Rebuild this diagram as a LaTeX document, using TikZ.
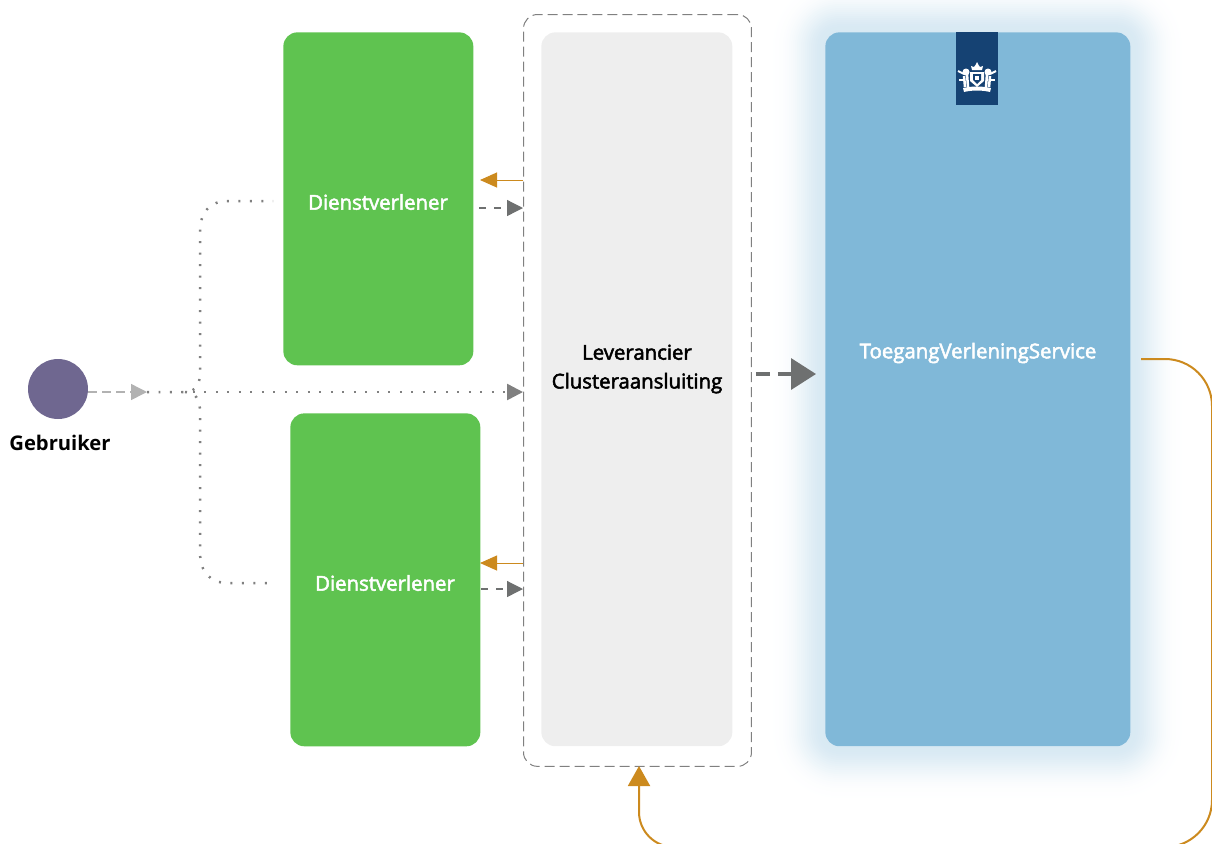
\documentclass[tikz,border=0pt]{standalone}
\usepackage{fontspec}
\setmainfont{Open Sans}
\newfontfamily\semifont{Open Sans}[FakeBold=2.5]
\usetikzlibrary{arrows.meta}
\definecolor{dvgreen}{HTML}{5FC350}
\definecolor{tvsblue}{HTML}{80B8D8}
\definecolor{rijksblue}{HTML}{154273}
\definecolor{clustergray}{HTML}{EEEEEE}
\definecolor{usrpurple}{HTML}{6F6790}
\definecolor{retorange}{HTML}{CC8A1E}
\definecolor{arrowgray}{HTML}{6E7070}
\tikzset{
    box/.style={rounded corners=0.28cm,inner sep=0pt,anchor=north west},
    lbl/.style={font=\semifont\fontsize{11.6pt}{16.4pt}\selectfont,align=center,inner sep=0pt},
    dotline/.style={draw=gray,line width=0.05cm,dash pattern=on 0.04cm off 0.19cm},
    smallhead/.style={-{Triangle[length=0.32cm,width=0.32cm]}},
    reqline/.style={smallhead,draw=arrowgray,line width=0.025cm,dash pattern=on 0.14cm off 0.16cm},
    backline/.style={-{Triangle[length=0.34cm,width=0.3cm]},draw=retorange,line width=0.02cm},
}

\begin{document}
\begin{tikzpicture}[x=0.02cm,y=-0.02cm]

    \useasboundingbox (0,0) rectangle (1212,843);

    % glow behind the service
    \foreach \g in {60,58,...,2}{
        \pgfmathsetmacro\glowop{0.0021*\g*exp(-(\g/26)^2)}
        \pgfmathsetmacro\glowr{(14+\g)*0.02}
        \fill[tvsblue,opacity=\glowop,rounded corners=\glowr cm] (825-\g,32-\g) rectangle (1130+\g,746+\g);
    }

    % boxes
    \node[box,fill=dvgreen,minimum width=3.8cm,minimum height=6.66cm] (dvtop) at (283,32) {};
    \node[box,fill=dvgreen,minimum width=3.8cm,minimum height=6.66cm] (dvbottom) at (290,413) {};
    \node[box,fill=clustergray,minimum width=3.82cm,minimum height=14.28cm] (cluster) at (541,32) {};
    \node[box,draw=gray,line width=0.02cm,dash pattern=on 0.2cm off 0.1cm,minimum width=4.56cm,minimum height=15.04cm] (frame) at (523,14) {};
    \node[box,fill=tvsblue,minimum width=6.1cm,minimum height=14.28cm] (tvs) at (825,32) {};
    \node[circle,fill=usrpurple,minimum size=1.2cm,inner sep=0pt] (user) at (58,389) {};

    % labels
    \node[lbl,white] (dvtoplabel) at (378,202) {Dienstverlener};
    \node[lbl,white] (dvbottomlabel) at (385,583) {Dienstverlener};
    \node[lbl,black] (clusterlabel) at (637,369) {Leverancier\\Clusteraansluiting};
    \node[lbl,white] (tvslabel) at (978,353) {ToegangVerleningService};
    \node[lbl,black,font=\bfseries\fontsize{11.5pt}{15pt}\selectfont] (userlabel) at (60,443) {Gebruiker};

    % logo
    \fill[rijksblue] (956,32) rectangle (998,105);
    \fill[white] (972,70) -- (971,66) -- (974,67) -- (975.5,65) -- (977,62) -- (978.5,65) -- (980,67) -- (983,66) -- (982,70) -- cycle;
    \fill[white] (970,72) -- (984,72) -- (984,81) -- (977,87) -- (970,81) -- cycle;
    \fill[rijksblue] (973,74) -- (981,74) -- (981,80) -- (977,84) -- (973,80) -- cycle;
    \fill[white] (975,76) rectangle (979,80);
    \foreach \s in {1,-1}{
        \fill[white] (977+\s*11,72) circle (3.5*0.02cm);
        \draw[white,line width=0.05cm] (977+\s*10,74) -- (977+\s*9,87);
        \draw[white,line width=0.05cm] (977+\s*13,76) -- (977+\s*12,87);
        \draw[white,line width=0.04cm] (977+\s*13,74) -- (977+\s*19,71);
        \draw[white,line width=0.04cm] (977+\s*12,80) -- (977+\s*18,80);
    }
    \fill[white] (963,88) .. controls (972,86) and (982,86) .. (991,88) -- (990,92) .. controls (982,90) and (972,90) .. (964,92) -- cycle;

    % coordinates of the free ends
    \coordinate (split) at (147,392);
    \coordinate (fork) at (185,392);
    \coordinate (dvtopin) at (273,201);
    \coordinate (dvbottomin) at (273,583);
    \coordinate (frameleft) at (523,392);
    \coordinate (bigtip) at (816,374);
    \coordinate (retstart) at (1141,359);
    \coordinate (retend) at (639,766);

    % user to the first arrow, then the dotted lines
    \draw[smallhead,draw=gray!60,line width=0.03cm,dash pattern=on 0.17cm off 0.11cm] (user.east |- split) -- (split);
    \draw[dotline] (split) -- (fork) .. controls (196,392) and (200,384) .. (200,372) -- (200,232) .. controls (200,212) and (210,201) .. (228,201) -- (dvtopin);
    \draw[dotline] (fork) .. controls (196,392) and (200,400) .. (200,412) -- (200,552) .. controls (200,572) and (210,583) .. (228,583) -- (dvbottomin);
    \draw[dotline,smallhead] (split) -- (frameleft);

    % cluster and service providers
    \foreach \ya/\yb/\xs in {180/208/479,563/589/481}{
        \draw[backline] (523,\ya) -- (480,\ya);
        \draw[reqline] (\xs,\yb) -- (523,\yb);
    }

    % cluster to service
    \draw[-{Triangle[length=0.5cm,width=0.62cm]},draw=arrowgray,line width=0.07cm,dash pattern=on 0.28cm off 0.16cm,shorten <=0.08cm] (frame.east |- bigtip) -- (bigtip);

    % way back to the frame
    \draw[-{Triangle[length=0.4cm,width=0.44cm]},draw=retorange,line width=0.04cm,rounded corners=0.94cm]
        (retstart) -| (1212,847) [rounded corners=0.7cm] -| (retend);

\end{tikzpicture}
\end{document}
